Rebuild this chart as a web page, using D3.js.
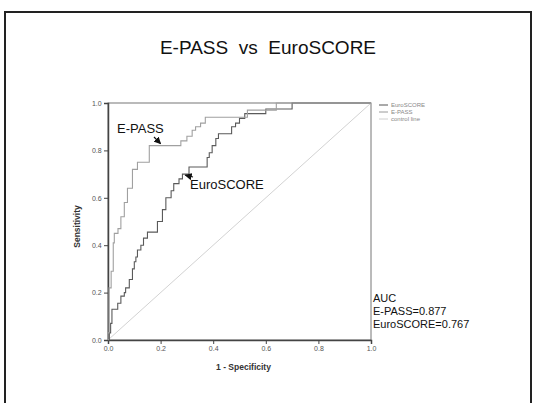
<!DOCTYPE html>
<html>
<head>
<meta charset="utf-8">
<script src="https://cdn.jsdelivr.net/npm/d3@7"></script>
<style>
  body { margin: 0; background: #fff; }
  svg { display: block; font-family: Arial, "Liberation Sans", sans-serif; }
</style>
</head>
<body>
<div id="chart"></div>
<script>
// ROC step points: x = 1 - specificity where the curve rises, y = sensitivity after the rise
const epassFpr = [0, 0, 0.004, 0.012, 0.02, 0.024, 0.038, 0.049, 0.062, 0.074, 0.093, 0.112, 0.157, 0.277, 0.30, 0.32, 0.333, 0.352, 0.37, 0.53, 0.64, 1.0]
const epassTpr = [0, 0.03, 0.22, 0.29, 0.41, 0.45, 0.47, 0.52, 0.58, 0.64, 0.72, 0.75, 0.82, 0.84, 0.86, 0.885, 0.90, 0.915, 0.94, 0.97, 1.0, 1.0]

const euroFpr = [0, 0.005, 0.01, 0.015, 0.037, 0.049, 0.062, 0.067, 0.081, 0.093, 0.10, 0.106, 0.112, 0.125, 0.135, 0.15, 0.188, 0.207, 0.22, 0.24, 0.25, 0.27, 0.283, 0.308, 0.377, 0.385, 0.396, 0.41, 0.42, 0.47, 0.485, 0.50, 0.52, 0.60, 0.70, 1.0]
const euroTpr = [0, 0.03, 0.07, 0.13, 0.155, 0.185, 0.20, 0.22, 0.255, 0.30, 0.33, 0.35, 0.38, 0.40, 0.43, 0.455, 0.50, 0.55, 0.60, 0.63, 0.66, 0.68, 0.70, 0.73, 0.77, 0.79, 0.82, 0.85, 0.87, 0.90, 0.915, 0.935, 0.955, 0.975, 1.0, 1.0]

const ticks = [0, 0.2, 0.4, 0.6, 0.8, 1.0]
const legendNames = ['EuroSCORE', 'E-PASS', 'control line']
const legendColors = ['#555', '#9a9a9a', '#d0d0d0']
const aucLines = ['AUC', 'E-PASS=0.877', 'EuroSCORE=0.767']

const width = 540
const height = 403

const svg = d3.select('#chart')
  .append('svg')
  .attr('width', width)
  .attr('height', height)

// slide frame
svg.append('rect')
  .attr('x', 5).attr('y', 12)
  .attr('width', 526).attr('height', 420)
  .attr('fill', 'none')
  .attr('stroke', '#222')
  .attr('stroke-width', 2)

svg.append('text')
  .attr('x', 268).attr('y', 54)
  .attr('text-anchor', 'middle')
  .attr('font-size', 19)
  .attr('fill', '#111')
  .style('white-space', 'pre')
  .text('E-PASS  vs  EuroSCORE')

const plot = { left: 108, right: 371, top: 103, bottom: 340 }

const x = d3.scaleLinear().domain([0, 1]).range([plot.left, plot.right])
const y = d3.scaleLinear().domain([0, 1]).range([plot.bottom, plot.top])

const g = svg.append('g')

// box round the plot
g.append('rect')
  .attr('x', plot.left).attr('y', plot.top)
  .attr('width', plot.right - plot.left)
  .attr('height', plot.bottom - plot.top)
  .attr('fill', 'none')
  .attr('stroke', '#777')
  .attr('stroke-width', 1)

// axes
const xAxis = g.append('g')
  .attr('transform', 'translate(0,' + plot.bottom + ')')
  .call(d3.axisBottom(x).tickValues(ticks).tickFormat(d3.format('.1f')).tickSize(4))
const yAxis = g.append('g')
  .attr('transform', 'translate(' + plot.left + ',0)')
  .call(d3.axisLeft(y).tickValues(ticks).tickFormat(d3.format('.1f')).tickSize(4))

;[xAxis, yAxis].forEach(a => {
  a.select('.domain').attr('stroke', '#444').attr('stroke-width', 1.5)
  a.selectAll('.tick line').attr('stroke', '#444')
  a.selectAll('.tick text')
    .attr('font-size', 7)
    .attr('fill', '#555')
    .attr('font-family', 'Arial, sans-serif')
})
xAxis.selectAll('.tick text').attr('dy', '0.5em')
yAxis.selectAll('.tick text').attr('dx', '0.1em')

// control line
g.append('line')
  .attr('x1', x(0)).attr('y1', y(0))
  .attr('x2', x(1)).attr('y2', y(1))
  .attr('stroke', '#d2d2d2')
  .attr('stroke-width', 1)

const stepLine = d3.line()
  .x(d => x(d[0]))
  .y(d => y(d[1]))
  .curve(d3.curveStepAfter)

g.append('path')
  .datum(d3.zip(euroFpr, euroTpr))
  .attr('d', stepLine)
  .attr('fill', 'none')
  .attr('stroke', '#5a5a5a')
  .attr('stroke-width', 1.1)

g.append('path')
  .datum(d3.zip(epassFpr, epassTpr))
  .attr('d', stepLine)
  .attr('fill', 'none')
  .attr('stroke', '#a0a0a0')
  .attr('stroke-width', 1.1)

// axis titles
svg.append('text')
  .attr('transform', 'translate(80,' + ((plot.top + plot.bottom) / 2 + 5) + ') rotate(-90)')
  .attr('text-anchor', 'middle')
  .attr('font-size', 8.5)
  .attr('font-weight', 'bold')
  .attr('fill', '#333')
  .text('Sensitivity')

svg.append('text')
  .attr('x', (plot.left + plot.right) / 2 + 4)
  .attr('y', 370)
  .attr('text-anchor', 'middle')
  .attr('font-size', 8.5)
  .attr('font-weight', 'bold')
  .attr('fill', '#333')
  .text('1 - Specificity')

// legend
const legend = svg.append('g')
  .attr('transform', 'translate(' + (plot.right + 8) + ',' + (plot.top + 2) + ')')
legendNames.forEach((name, i) => {
  legend.append('line')
    .attr('x1', 0).attr('x2', 9)
    .attr('y1', i * 7).attr('y2', i * 7)
    .attr('stroke', legendColors[i])
  legend.append('text')
    .attr('x', 12).attr('y', i * 7 + 2)
    .attr('font-size', 6)
    .attr('fill', '#888')
    .text(name)
})

// AUC note
aucLines.forEach((t, i) => {
  svg.append('text')
    .attr('x', plot.right + 2)
    .attr('y', 302 + i * 13)
    .attr('font-size', 11)
    .attr('fill', '#111')
    .text(t)
})

// arrows to the curves
svg.append('defs').append('marker')
  .attr('id', 'head')
  .attr('viewBox', '0 0 10 10')
  .attr('refX', 9).attr('refY', 5)
  .attr('markerWidth', 6).attr('markerHeight', 6)
  .attr('orient', 'auto')
  .append('path')
  .attr('d', 'M0,0L10,5L0,10z')
  .attr('fill', '#111')

svg.append('text')
  .attr('x', 117).attr('y', 133)
  .attr('font-size', 13)
  .attr('fill', '#111')
  .text('E-PASS')
svg.append('line')
  .attr('x1', 154).attr('y1', 137)
  .attr('x2', x(0.2)).attr('y2', y(0.82) - 2)
  .attr('stroke', '#111')
  .attr('stroke-width', 1.2)
  .attr('marker-end', 'url(#head)')

svg.append('text')
  .attr('x', 190).attr('y', 189)
  .attr('font-size', 13)
  .attr('fill', '#111')
  .text('EuroSCORE')
svg.append('line')
  .attr('x1', 193).attr('y1', 177)
  .attr('x2', x(0.29) + 1).attr('y2', y(0.70) + 1)
  .attr('stroke', '#111')
  .attr('stroke-width', 1.2)
  .attr('marker-end', 'url(#head)')
</script>
</body>
</html>
